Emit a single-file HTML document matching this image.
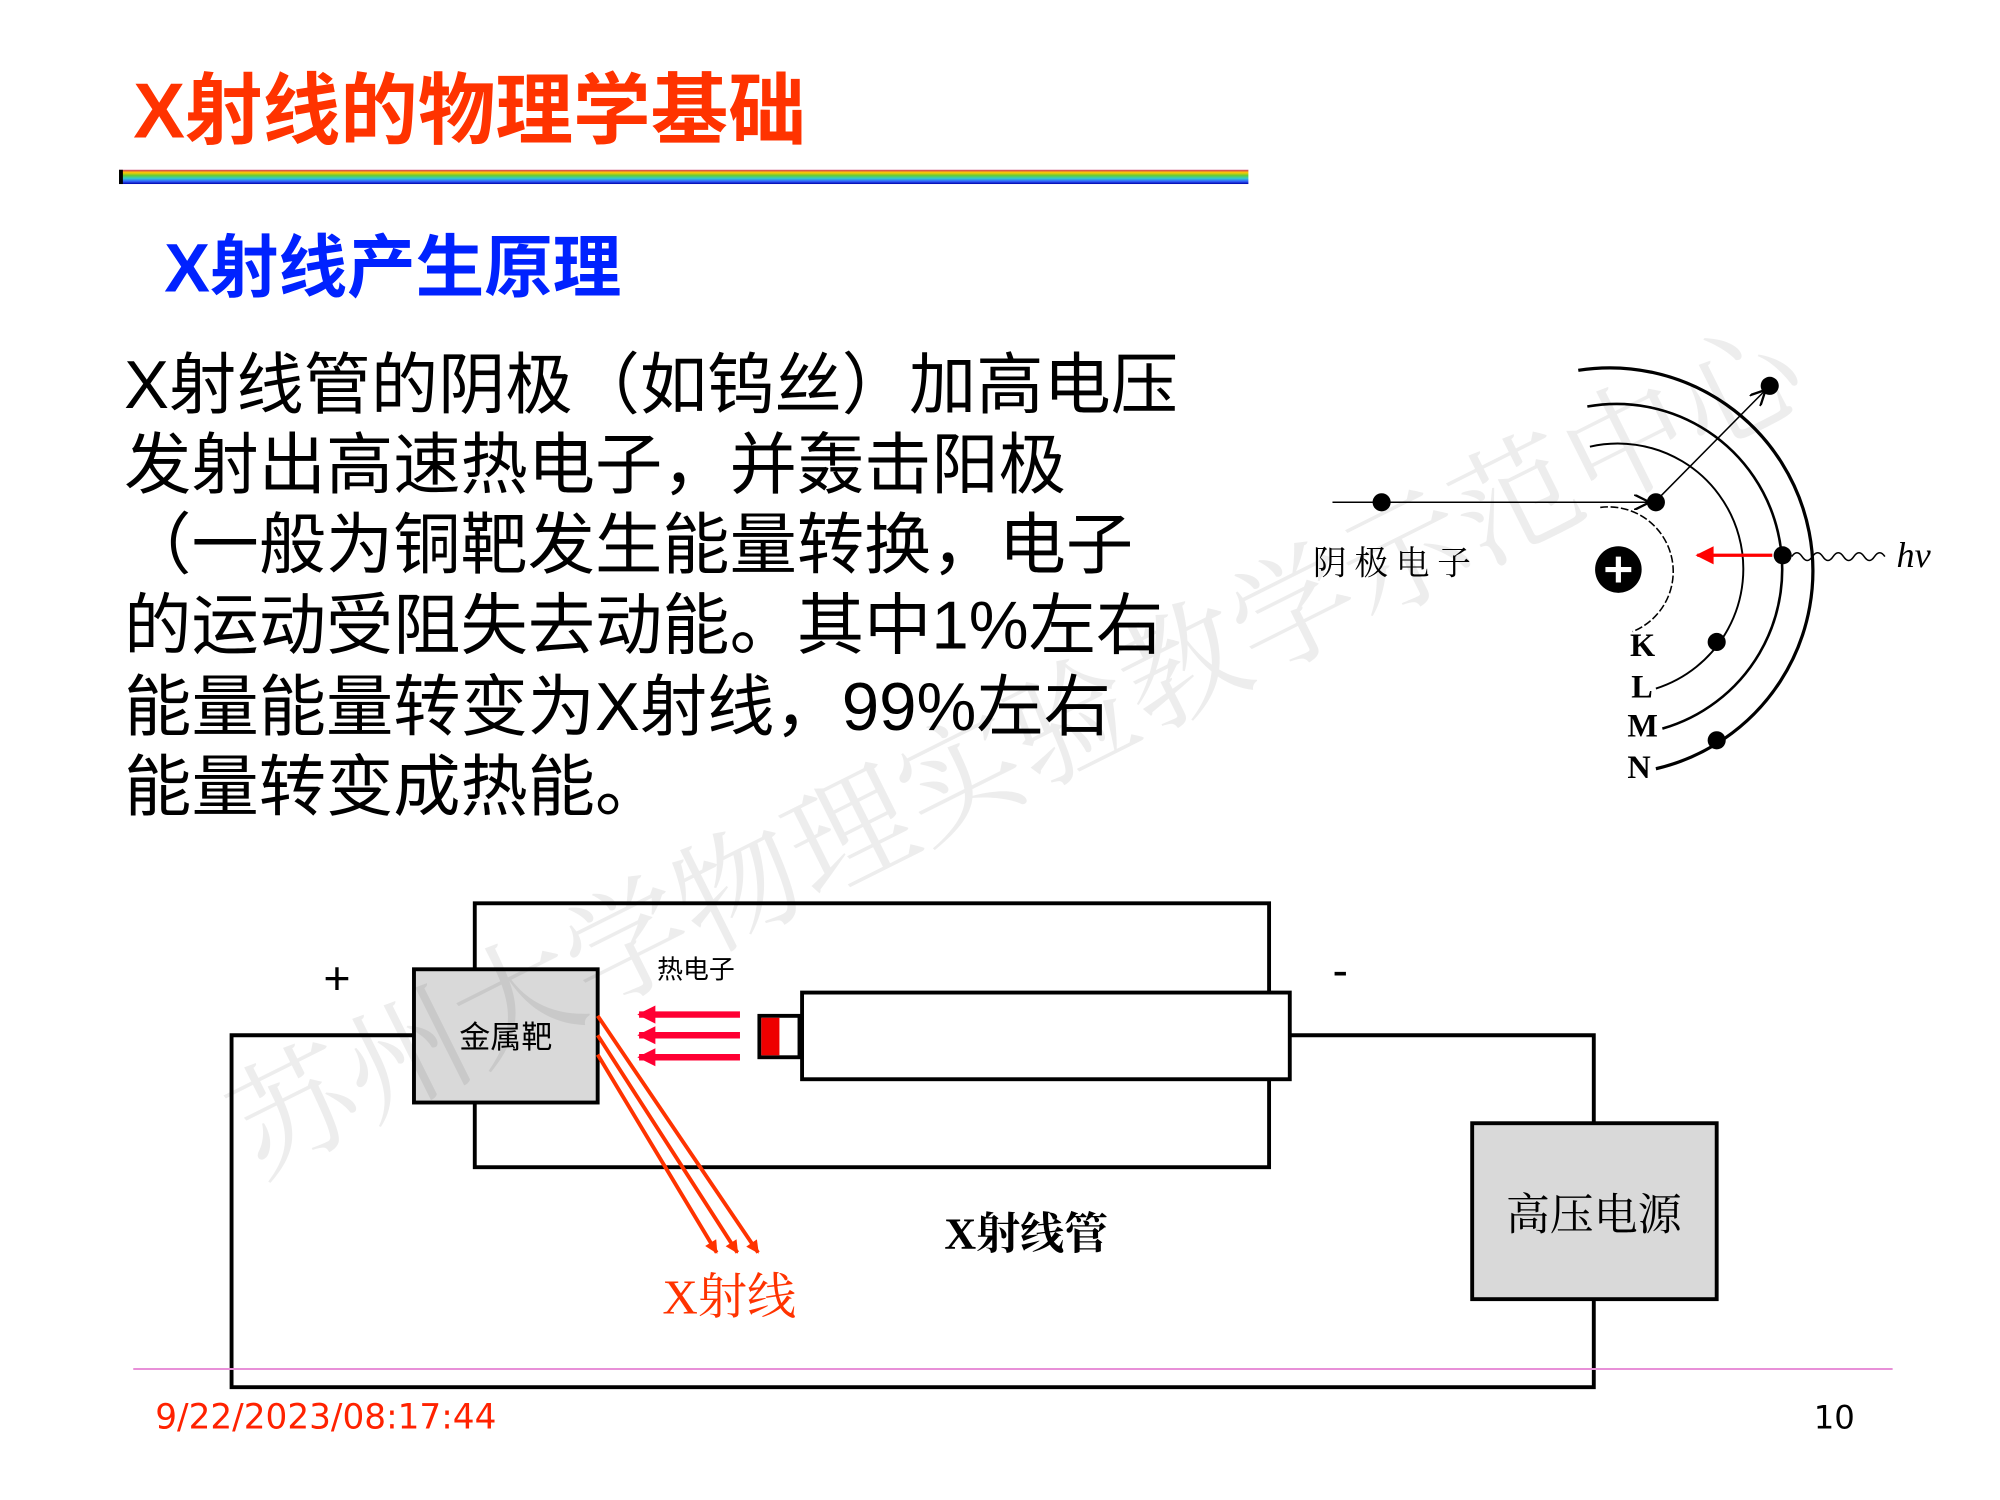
<!DOCTYPE html>
<html><head><meta charset="utf-8"><style>
html,body{margin:0;padding:0;background:#fff;}
svg{display:block;}
.cj{font-family:"Liberation Sans","Noto Sans CJK SC",sans-serif;}
.dj{font-family:"DejaVu Sans","Noto Sans CJK SC",sans-serif;}
.sf{font-family:"Liberation Serif","Noto Serif CJK SC",serif;}
</style></head><body>
<svg width="2000" height="1500" viewBox="0 0 1546 1159" xmlns="http://www.w3.org/2000/svg">
<defs>
<linearGradient id="rb" x1="0" y1="0" x2="0" y2="1">
<stop offset="0" stop-color="#cc3366"/><stop offset="0.2" stop-color="#ffcc00"/><stop offset="0.4" stop-color="#66cc33"/><stop offset="0.6" stop-color="#33cccc"/><stop offset="0.8" stop-color="#3366ff"/><stop offset="1" stop-color="#0000aa"/>
</linearGradient>
<marker id="ah" viewBox="0 0 10 10" refX="9" refY="5" markerWidth="12" markerHeight="12" markerUnits="userSpaceOnUse" orient="auto"><path d="M0,0 L10,5 L0,10" fill="none" stroke="#000" stroke-width="1.5"/></marker>
<marker id="rh" viewBox="0 0 10 10" refX="9" refY="5" markerWidth="18" markerHeight="14" markerUnits="userSpaceOnUse" orient="auto"><path d="M0,0 L10,5 L0,10 Z" fill="#ff0000"/></marker>
<marker id="rh2" viewBox="0 0 10 10" refX="9" refY="5" markerWidth="14" markerHeight="16" markerUnits="userSpaceOnUse" orient="auto"><path d="M0,0 L10,5 L0,10 Z" fill="#ff0033"/></marker>
<marker id="xh" viewBox="0 0 10 10" refX="9" refY="5" markerWidth="12" markerHeight="10" markerUnits="userSpaceOnUse" orient="auto"><path d="M0,0 L10,5 L0,10 Z" fill="#ff3300"/></marker>
</defs>

<text x="103" y="106" class="cj" font-size="60" font-weight="bold" fill="#ff3300">X射线的物理学基础</text>
<rect x="92" y="131" width="873" height="11" fill="url(#rb)"/>
<rect x="92" y="131" width="3" height="11" fill="#000"/>
<text x="127" y="225" class="cj" font-size="53" font-weight="bold" fill="#0022ff">X射线产生原理</text>

<g class="cj" font-size="52" fill="#000">
<text x="96" y="315">X射线管的阴极（如钨丝）加高电压</text>
<text x="96" y="377">发射出高速热电子，并轰击阳极</text>
<text x="96" y="439">（一般为铜靶发生能量转换，电子</text>
<text x="96" y="501">的运动受阻失去动能。其中1%左右</text>
<text x="96" y="564">能量能量转变为X射线，99%左右</text>
<text x="96" y="626">能量转变成热能。</text>
</g>

<g fill="none" stroke="#000">
<path d="M1237,392 A50,50 0 0 1 1262,488" stroke-width="1.2" stroke-dasharray="6,2"/>
<path d="M1229,345 A97,97 0 0 1 1280,532" stroke-width="1.5"/>
<path d="M1227,314 A128,128 0 0 1 1285,563" stroke-width="2"/>
<path d="M1220,286 A157,157 0 0 1 1280,594" stroke-width="2.5"/>
<line x1="1030" y1="388" x2="1274" y2="388" stroke-width="1.2" marker-end="url(#ah)"/>
<line x1="1283" y1="384" x2="1364" y2="302" stroke-width="1.2" marker-end="url(#ah)"/>
<path d="M1385,430 q4,-6 8,0 t8,0 t8,0 t8,0 t8,0 t8,0 t8,0 t8,0 t8,0" stroke-width="1.2"/>
</g>
<line x1="1370" y1="429" x2="1312" y2="429" stroke="#ff0000" stroke-width="2.5" marker-end="url(#rh)"/>
<g fill="#000">
<circle cx="1068" cy="388" r="7"/><circle cx="1280" cy="388" r="7"/><circle cx="1368" cy="298" r="7"/>
<circle cx="1378" cy="429" r="7"/><circle cx="1327" cy="496" r="7"/><circle cx="1327" cy="572" r="7"/>
<circle cx="1251" cy="440" r="18"/>
</g>
<path d="M1241,440 H1261 M1251,430 V450" stroke="#fff" stroke-width="4"/>
<text x="1466" y="438" class="sf" font-size="28" font-style="italic">hv</text>
<text x="1015" y="444" class="sf" font-size="26" letter-spacing="6">阴极电子</text>
<g class="sf" font-size="25" font-weight="bold">
<text x="1260" y="507">K</text><text x="1261" y="539">L</text><text x="1258" y="569">M</text><text x="1258" y="601">N</text>
</g>

<g fill="none" stroke="#000" stroke-width="3">
<path d="M320,800 H179 V1072 H1232 V1004"/>
<path d="M997,800 H1232 V868"/>
<rect x="367" y="698" width="614" height="204"/>
</g>
<rect x="620" y="767" width="377" height="67" fill="#fff" stroke="#000" stroke-width="3"/>
<rect x="587" y="785" width="31" height="32" fill="#fff" stroke="#000" stroke-width="3"/>
<rect x="588.5" y="786.5" width="14" height="29" fill="#ee0000"/>
<rect x="320" y="749" width="142" height="103" fill="#d9d9d9" stroke="#000" stroke-width="3"/>
<text x="391" y="810" class="cj" font-size="24" text-anchor="middle">金属靶</text>
<rect x="1138" y="868" width="189" height="136" fill="#d9d9d9" stroke="#000" stroke-width="3"/>
<text x="1232" y="950" class="sf" font-size="34" text-anchor="middle">高压电源</text>

<g stroke="#ff0033" stroke-width="5">
<line x1="572" y1="784" x2="494" y2="784" marker-end="url(#rh2)"/>
<line x1="572" y1="800" x2="494" y2="800" marker-end="url(#rh2)"/>
<line x1="572" y1="817" x2="494" y2="817" marker-end="url(#rh2)"/>
</g>
<g stroke="#ff3300" stroke-width="3">
<line x1="462" y1="785" x2="586" y2="968" marker-end="url(#xh)"/>
<line x1="462" y1="800" x2="570" y2="968" marker-end="url(#xh)"/>
<line x1="462" y1="815" x2="554" y2="968" marker-end="url(#xh)"/>
</g>
<text x="508" y="756" class="cj" font-size="20">热电子</text>
<text x="250" y="768" class="cj" font-size="36">+</text>
<text x="1030" y="762" class="cj" font-size="36">-</text>
<text x="730" y="965" class="sf" font-size="34" font-weight="bold">X射线管</text>
<text x="512" y="1015" class="sf" font-size="38" fill="#ff3300">X射线</text>

<text x="0" y="0" class="sf" font-size="96" fill="#000" fill-opacity="0.07" transform="translate(200,910) rotate(-26.6)">苏州大学物理实验教学示范中心</text>

<line x1="103" y1="1058" x2="1463" y2="1058" stroke="#e890d8" stroke-width="1.5"/>
<text x="120" y="1104" class="dj" font-size="26.5" fill="#ff2200">9/22/2023/08:17:44</text>
<text x="1402" y="1104" class="dj" font-size="25" fill="#000">10</text>
</svg>
</body></html>
